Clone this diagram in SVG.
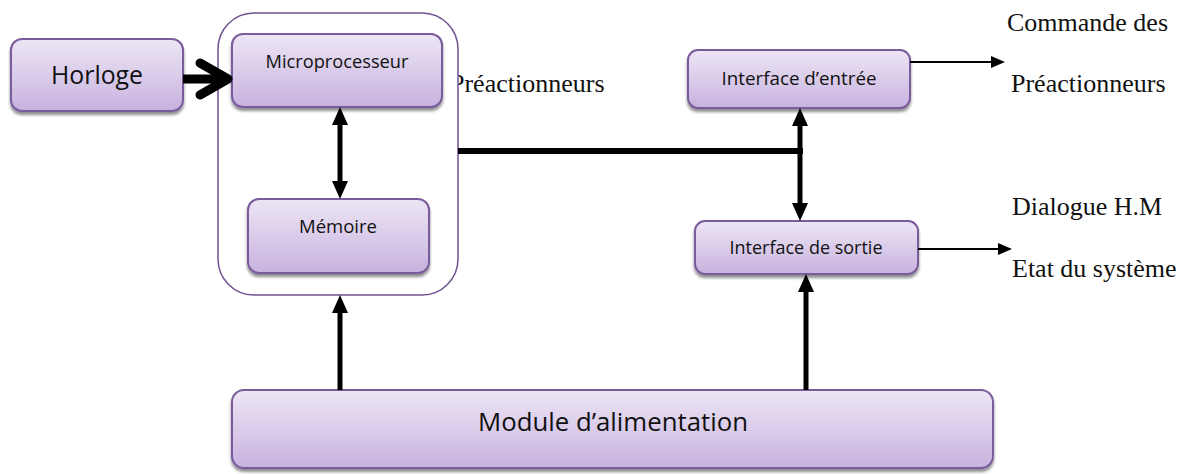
<svg xmlns="http://www.w3.org/2000/svg" width="1193" height="474" viewBox="0 0 1193 474">
<style>
.box{fill:url(#g);stroke:#7a5c9c;stroke-width:2;filter:url(#sh)}
.cal{font-family:"Open Sans","Liberation Sans",sans-serif;fill:#111;text-anchor:middle}
.tim{font-family:"Liberation Serif","Times New Roman",serif;font-size:26px;fill:#111}
.thick{stroke:#000;stroke-width:5;fill:none}
.thin{stroke:#000;stroke-width:2;fill:none}
</style>
<defs>
<linearGradient id="g" x1="0" y1="0" x2="0" y2="1">
<stop offset="0" stop-color="#ede6f5"/>
<stop offset="1" stop-color="#c7b2df"/>
</linearGradient>
<filter id="sh" x="-5%" y="-10%" width="110%" height="130%">
<feGaussianBlur in="SourceAlpha" stdDeviation="1.5"/>
<feOffset dx="0" dy="3" result="b"/>
<feComponentTransfer><feFuncA type="linear" slope="0.45"/></feComponentTransfer>
<feMerge><feMergeNode/><feMergeNode in="SourceGraphic"/></feMerge>
</filter>
<marker id="ah" viewBox="0 0 18 16" markerWidth="18" markerHeight="16" markerUnits="userSpaceOnUse" refX="4" refY="8" orient="auto-start-reverse">
<path d="M0,0 L18,8 L0,16 z" fill="#000"/>
</marker>
<marker id="as" viewBox="0 0 14 12" markerWidth="14" markerHeight="12" markerUnits="userSpaceOnUse" refX="2" refY="6" orient="auto">
<path d="M0,0 L14,6 L0,12 z" fill="#000"/>
</marker>
</defs>
<rect width="1193" height="474" fill="#fff"/>

<text class="tim" x="450" y="92">Préactionneurs</text>

<g id="container">
<rect x="218" y="13" width="240" height="282" rx="36" fill="#fff" stroke="#6e5190" stroke-width="1.5"/>
</g>

<g id="horloge">
<rect class="box" x="11" y="39" width="172" height="72" rx="11"/>
<text class="cal" x="97" y="84" font-size="26" textLength="92" lengthAdjust="spacingAndGlyphs">Horloge</text>
</g>
<g id="microprocesseur">
<rect class="box" x="232" y="34" width="210" height="73" rx="11"/>
<text class="cal" x="337" y="68" font-size="19" textLength="143" lengthAdjust="spacingAndGlyphs">Microprocesseur</text>
</g>
<g id="memoire">
<rect class="box" x="248" y="199" width="181" height="74" rx="11"/>
<text class="cal" x="338" y="233" font-size="19" textLength="78" lengthAdjust="spacingAndGlyphs">Mémoire</text>
</g>
<g id="interface-entree">
<rect class="box" x="688" y="50" width="222" height="58" rx="10"/>
<text class="cal" x="799" y="85" font-size="19" textLength="155" lengthAdjust="spacingAndGlyphs">Interface d’entrée</text>
</g>
<g id="interface-sortie">
<rect class="box" x="695" y="221" width="223" height="53" rx="10"/>
<text class="cal" x="806" y="254" font-size="19" textLength="153" lengthAdjust="spacingAndGlyphs">Interface de sortie</text>
</g>
<g id="alimentation">
<rect class="box" x="232" y="390" width="761" height="78" rx="12"/>
<text class="cal" x="613" y="431" font-size="26" textLength="270" lengthAdjust="spacingAndGlyphs">Module d’alimentation</text>
</g>

<g id="labels">
<text class="tim" x="1007" y="31">Commande des</text>
<text class="tim" x="1011" y="92">Préactionneurs</text>
<text class="tim" x="1012" y="215">Dialogue H.M</text>
<text class="tim" x="1012" y="277">Etat du système</text>
</g>

<g id="connectors">
<line x1="183" y1="79" x2="222" y2="79" stroke="#000" stroke-width="9"/>
<polyline points="200,63 228,79 200,95" fill="none" stroke="#000" stroke-width="9" stroke-linecap="round" stroke-linejoin="round"/>
<line class="thick" x1="340" y1="121" x2="340" y2="185" marker-start="url(#ah)" marker-end="url(#ah)"/>
<line class="thick" x1="340" y1="390" x2="340" y2="309" marker-end="url(#ah)"/>
<line x1="458" y1="151" x2="803" y2="151" stroke="#000" stroke-width="6"/>
<line class="thick" x1="800" y1="122" x2="800" y2="207" marker-start="url(#ah)" marker-end="url(#ah)"/>
<line class="thick" x1="806" y1="390" x2="806" y2="288" marker-end="url(#ah)"/>
<line class="thin" x1="910" y1="62" x2="993" y2="62" marker-end="url(#as)"/>
<line class="thin" x1="918" y1="249" x2="1000" y2="249" marker-end="url(#as)"/>
</g>
</svg>
